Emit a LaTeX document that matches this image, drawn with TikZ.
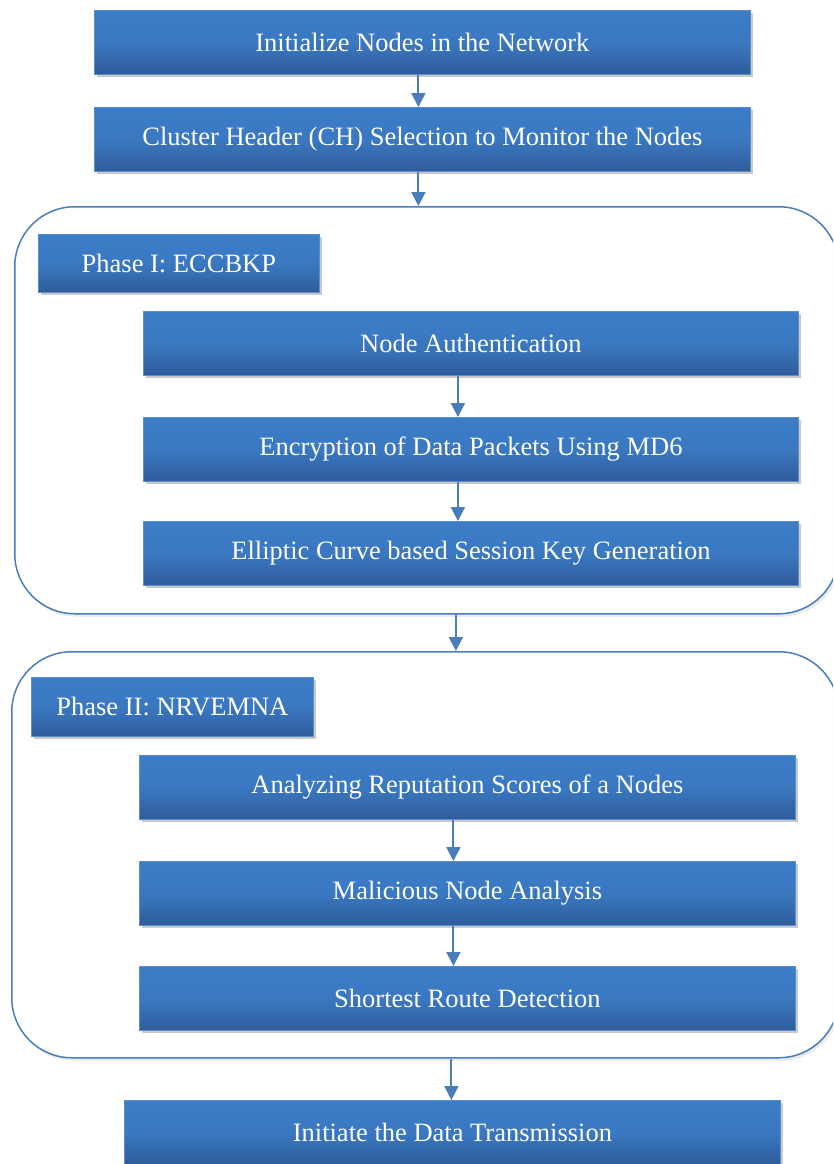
\documentclass[tikz,border=0pt]{standalone}
\usepackage{fontspec}
\setmainfont{Liberation Serif}
\usetikzlibrary{shadows,arrows.meta}
\definecolor{boxtop}{HTML}{3C7DC8}
\definecolor{boxbot}{HTML}{2E5C9A}
\definecolor{boxedge}{HTML}{5B8CCB}
\definecolor{lineblue}{HTML}{4A7EBB}
\tikzset{
  stepbox/.style={rectangle, draw=boxedge, line width=0.8pt,
    top color=boxtop, bottom color=boxbot, middle color=boxtop!85!boxbot,
    text=white, font=\fontsize{26.5}{30}\selectfont,
    anchor=north west, inner sep=0pt,
    drop shadow={shadow xshift=2.5pt, shadow yshift=-3pt, opacity=0.35, fill=black!60}},
  phasebox/.style={stepbox},
  container/.style={rectangle, rounded corners=60pt, draw=lineblue, line width=1.5pt,
    anchor=north west, inner sep=0pt, fill=white,
    drop shadow={shadow xshift=2pt, shadow yshift=-3pt, opacity=0.2, fill=black!40}},
  arr/.style={draw=lineblue, line width=2pt,
    -{Triangle[length=14pt, width=14pt, fill=lineblue]}},
}
\begin{document}
\begin{tikzpicture}[x=1pt,y=-1pt]
\useasboundingbox (0,0) rectangle (833,1164);
\clip (0,0) rectangle (833,1164);

% top steps
\node[stepbox, minimum width=656pt, minimum height=64pt] (init) at (94,10)
  {Initialize Nodes in the Network};
\node[stepbox, minimum width=656pt, minimum height=64pt] (ch) at (94,107)
  {Cluster Header (CH) Selection to Monitor the Nodes};

% phase I frame and content
\node[container, minimum width=824pt, minimum height=407pt] (ph1) at (14,206) {};
\node[phasebox, minimum width=281pt, minimum height=58pt] (ph1t) at (38,234)
  {Phase I: ECCBKP};
\node[stepbox, minimum width=655pt, minimum height=64pt] (auth) at (143,311)
  {Node Authentication};
\node[stepbox, minimum width=655pt, minimum height=64pt] (enc) at (143,417)
  {Encryption of Data Packets Using MD6};
\node[stepbox, minimum width=655pt, minimum height=64pt] (ecc) at (143,521)
  {Elliptic Curve based Session Key Generation};

% phase II frame and content
\node[container, minimum width=827pt, minimum height=406pt] (ph2) at (11,651) {};
\node[phasebox, minimum width=282pt, minimum height=59pt] (ph2t) at (31,677)
  {Phase II: NRVEMNA};
\node[stepbox, minimum width=656pt, minimum height=64pt] (rep) at (139,755)
  {Analyzing Reputation Scores of a Nodes};
\node[stepbox, minimum width=656pt, minimum height=64pt] (mal) at (139,861)
  {Malicious Node Analysis};
\node[stepbox, minimum width=656pt, minimum height=64pt] (route) at (139,966)
  {Shortest Route Detection};

% final step
\node[stepbox, minimum width=656pt, minimum height=64pt] (tx) at (124,1100)
  {Initiate the Data Transmission};

% connectors
\draw[arr] ([xshift=-4pt]init.south) -- ([xshift=-4pt]init.south |- ch.north);
\draw[arr] ([xshift=-4pt]ch.south) -- ([xshift=-4pt]ch.south |- ph1.north);
\draw[arr] ([xshift=-13pt]auth.south) -- ([xshift=-13pt]auth.south |- enc.north);
\draw[arr] ([xshift=-13pt]enc.south) -- ([xshift=-13pt]enc.south |- ecc.north);
\draw[arr] ([xshift=-15pt]ecc.south |- ph1.south) -- ([xshift=-15pt]ecc.south |- ph2.north);
\draw[arr] ([xshift=-14pt]rep.south) -- ([xshift=-14pt]rep.south |- mal.north);
\draw[arr] ([xshift=-14pt]mal.south) -- ([xshift=-14pt]mal.south |- route.north);
\draw[arr] ([xshift=-16pt]route.south |- ph2.south) -- ([xshift=-16pt]route.south |- tx.north);
\end{tikzpicture}
\end{document}
